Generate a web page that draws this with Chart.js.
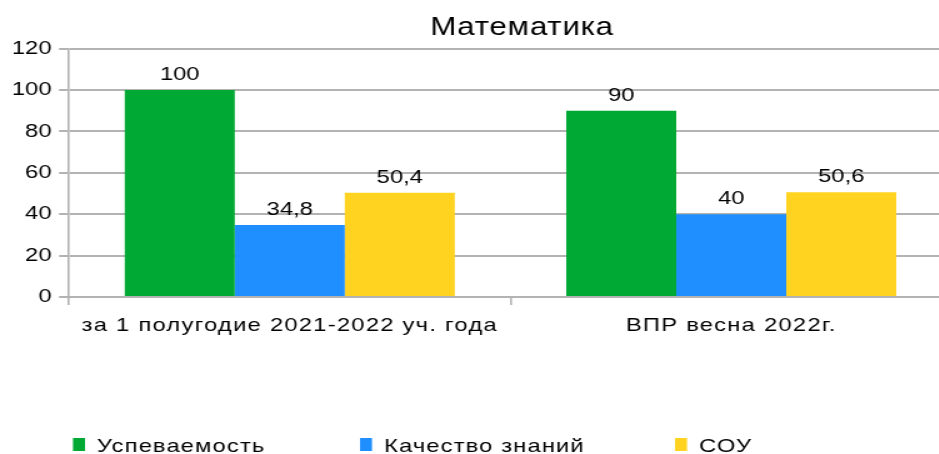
<!DOCTYPE html>
<html>
<head>
<meta charset="utf-8">
<script src="https://cdn.jsdelivr.net/npm/chart.js@4/dist/chart.umd.min.js"></script>
<style>
	html, body { margin:0; padding:0; background:#fff; overflow:hidden; }
	#wrap { width:768px; height:454px; transform:scaleX(1.25); transform-origin:0 0; }
</style>
</head>
<body>
<div id="wrap"><canvas id="chart" width="768" height="454"></canvas></div>
<script>
var title      = 'Математика';
var categories = [ 'за 1 полугодие 2021-2022 уч. года', 'ВПР весна 2022г.' ];
var uspev      = [ 100, 90 ];
var kachestvo  = [ 34.8, 40 ];
var sou        = [ 50.4, 50.6 ];
var seriesNames  = [ 'Успеваемость', 'Качество знаний', 'СОУ' ];
var seriesColors = [ '#00a933', '#1f8fff', '#ffd320' ];
var yTicks     = [ 0, 20, 40, 60, 80, 100, 120 ];

var FONT = '"Liberation Sans", Arial, sans-serif',
	GRID = '#b3b3b3';

function fmt( v )
{
	return (new String(v)).replace('.', ',');
} // fmt

// labels over bars, category labels, title and legend (canvas is stretched 1.25 in x)
var extras = {
	id: 'extras',
	afterDatasetsDraw: function( chart ){
		var ctx = chart.ctx;
		ctx.save();
		ctx.font = '19px ' + FONT;
		ctx.fillStyle = '#000';
		ctx.textAlign = 'center';
		ctx.textBaseline = 'alphabetic';
		chart.data.datasets.forEach( function( ds, i ){
			chart.getDatasetMeta( i ).data.forEach( function( bar, j ){
				ctx.fillText( fmt( ds.data[ j ] ), bar.x, bar.y - 10 );
			} );
		} );
		ctx.restore();
	},
	afterDraw: function( chart ){
		var ctx = chart.ctx,
			xs = chart.scales.x,
			legendX = [ 58.4, 288, 540 ];
		ctx.save();
		ctx.fillStyle = '#000';
		ctx.textBaseline = 'alphabetic';
		ctx.textAlign = 'center';

		ctx.font = '25px ' + FONT;
		ctx.letterSpacing = '0.6px';
		ctx.fillText( title, 417.6, 35 );

		ctx.font = '19px ' + FONT;
		ctx.letterSpacing = '1px';
		chart.data.labels.forEach( function( l, i ){
			ctx.fillText( l, xs.getPixelForTick( i ), 331 );
		} );

		ctx.textAlign = 'left';
		ctx.letterSpacing = '0.9px';
		chart.data.datasets.forEach( function( ds, i ){
			ctx.fillStyle = ds.backgroundColor;
			ctx.fillRect( legendX[ i ], 438, 9.6, 13 );
			ctx.fillStyle = '#000';
			ctx.fillText( ds.label, legendX[ i ] + 19.2, 452 );
		} );
		ctx.restore();
	}
};

new Chart( document.getElementById( 'chart' ).getContext( '2d' ), {
	type: 'bar',
	data: {
		labels: categories,
		datasets: [
			{ label: seriesNames[0], data: uspev,     backgroundColor: seriesColors[0] },
			{ label: seriesNames[1], data: kachestvo, backgroundColor: seriesColors[1] },
			{ label: seriesNames[2], data: sou,       backgroundColor: seriesColors[2] }
		]
	},
	options: {
		responsive: false,
		animation: false,
		devicePixelRatio: 1,
		layout: { padding: { top: 48.6, right: 6.4, bottom: 0, left: 0 } },
		datasets: { bar: { categoryPercentage: 0.7475, barPercentage: 1 } },
		plugins: {
			legend: { display: false },
			title: { display: false },
			tooltip: { enabled: false }
		},
		scales: {
			x: {
				afterFit: function( s ){ s.height = 157; },
				grid: { drawOnChartArea: false, color: GRID, lineWidth: 1.6, tickLength: 8 },
				border: { display: true, color: GRID, width: 2 },
				ticks: { display: false }
			},
			y: {
				min: 0,
				max: 120,
				afterFit: function( s ){ s.width = 55.2; },
				afterBuildTicks: function( s ){ s.ticks = yTicks.map( function( v ){ return { value: v }; } ); },
				grid: { color: GRID, lineWidth: 2, tickLength: 8, tickColor: GRID },
				border: { display: true, color: GRID, width: 1.6 },
				ticks: { color: '#000', font: { family: FONT, size: 19 }, padding: 6 }
			}
		}
	},
	plugins: [ extras ]
} );
</script>
</body>
</html>
